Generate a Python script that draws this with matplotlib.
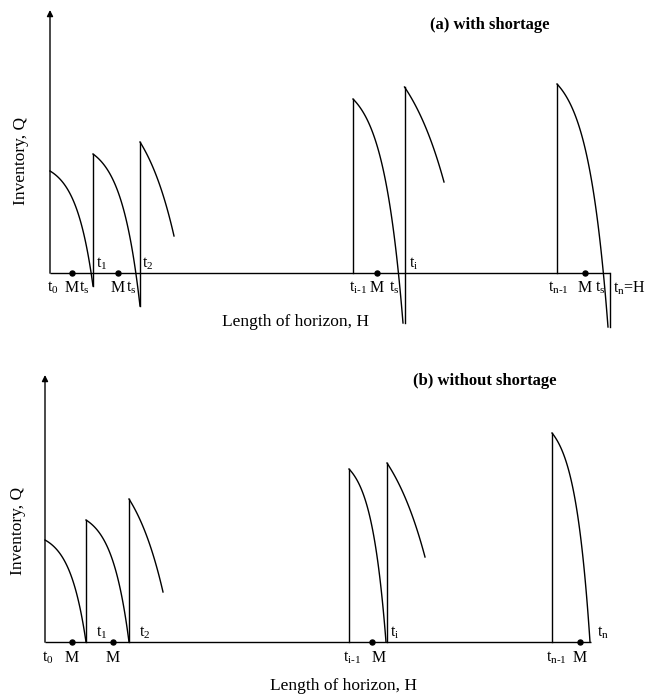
import numpy as np
import matplotlib
matplotlib.use("Agg")
import matplotlib.pyplot as plt

plt.rcParams['font.family'] = ['Liberation Serif', 'DejaVu Serif']
plt.rcParams['mathtext.fontset'] = 'custom'
plt.rcParams['mathtext.rm'] = 'Liberation Serif'
plt.rcParams['mathtext.it'] = 'Liberation Serif:italic'
plt.rcParams['mathtext.bf'] = 'Liberation Serif:bold'

# ---------------- (a) with shortage ----------------
a_start = [0.0, 4.3, 9.0, 30.3, 35.45, 50.7]        # replenishment instants
a_peak = [10.2, 11.9, 13.1, 17.4, 18.6, 18.9]       # stock right after ordering
a_end_t = [4.3, 9.0, 12.4, 35.3, 39.4, 55.8]        # where each drawn curve stops
a_end_q = [-1.3, -3.3, 3.7, -5.0, 9.1, -5.4]        # level where each curve stops
a_jump_low = [None, -1.3, -3.3, 0.0, -5.0, 0.0]     # bottom of each order jump
a_shape = [2.5, 2.5, 1.0, 2.5, 0.9, 2.5]
a_horizon = 56.0
a_final_drop = -5.4
a_axis_top = 26.3
a_m = [2.2, 6.8, 32.7, 53.5]
a_low_labels = ['t$_\\mathrm{0}$', 'M', 't$_\\mathrm{s}$', 'M', 't$_\\mathrm{s}$',
                't$_\\text{i-1}$', 'M', 't$_\\mathrm{s}$',
                't$_\\text{n-1}$', 'M', 't$_\\mathrm{s}$', 't$_\\mathrm{n}$=H']
a_low_x = [0.3, 2.2, 3.4, 6.8, 8.1, 30.8, 32.7, 34.4, 50.8, 53.5, 55.0, 57.9]
a_up_labels = ['t$_\\mathrm{1}$', 't$_\\mathrm{2}$', 't$_\\mathrm{i}$']
a_up_x = [5.2, 9.8, 36.4]

# ---------------- (b) without shortage ----------------
b_start = [0.0, 4.1, 8.4, 30.4, 34.2, 50.7]
b_peak = [10.2, 12.2, 14.3, 17.3, 17.9, 20.9]
b_end_t = [4.1, 8.4, 11.8, 34.1, 38.0, 54.5]
b_end_q = [0.0, 0.0, 5.0, 0.0, 8.5, 0.0]
b_jump_low = [None, 0.0, 0.0, 0.0, 0.0, 0.0]
b_shape = [2.5, 2.5, 1.0, 2.5, 0.9, 2.5]
b_horizon = 54.6
b_axis_top = 26.7
b_m = [2.7, 6.8, 32.7, 53.5]
b_low_labels = ['t$_\\mathrm{0}$', 'M', 'M', 't$_\\text{i-1}$', 'M', 't$_\\text{n-1}$', 'M']
b_low_x = [0.3, 2.7, 6.8, 30.7, 33.4, 51.1, 53.5]
b_up_labels = ['t$_\\mathrm{1}$', 't$_\\mathrm{2}$', 't$_\\mathrm{i}$', 't$_\\mathrm{n}$']
b_up_x = [5.7, 10.0, 35.0, 55.8]


def decay(t0, q0, t1, q1, k, n=120):
    s = np.linspace(0.0, 1.0, n)
    f = np.expm1(k * s) / np.expm1(k)
    return t0 + (t1 - t0) * s, q0 + (q1 - q0) * f


LW = 1.0
TICK_FS = 11.5
LAB_FS = 12.5
TITLE_FS = 12


def draw_panel(ax, starts, peaks, end_t, end_q, jump_low, shapes, horizon,
               axis_top, m_pos, low_labels, low_x, up_labels, up_x,
               title, title_xy, xlabel_xy, ylabel_xy, low_y, up_y,
               final_drop=None):
    ax.axis('off')
    # axes: horizon line and inventory axis with arrow
    ax.plot([0, horizon], [0, 0], color='black', lw=LW, solid_capstyle='butt')
    ax.annotate('', xy=(0, axis_top), xytext=(0, -0.02),
                arrowprops=dict(arrowstyle='-|>', lw=LW, color='black',
                                mutation_scale=9, shrinkA=0, shrinkB=0))
    for t0, q0, t1, q1, lo, k in zip(starts, peaks, end_t, end_q, jump_low, shapes):
        if lo is not None:
            ax.plot([t0, t0], [lo, q0], color='black', lw=LW)
        x, y = decay(t0, q0, t1, q1, k)
        ax.plot(x, y, color='black', lw=LW)
    if final_drop is not None:
        ax.plot([horizon, horizon], [0, final_drop], color='black', lw=LW)
    ax.plot(m_pos, [0] * len(m_pos), 'o', color='black', ms=3.6)
    for s, x in zip(low_labels, low_x):
        ax.text(x, low_y, s, ha='center', va='center', fontsize=TICK_FS)
    for s, x in zip(up_labels, up_x):
        ax.text(x, up_y, s, ha='center', va='center', fontsize=TICK_FS)
    ax.text(*title_xy, title, ha='center', va='center', fontsize=TITLE_FS,
            fontweight='bold')
    ax.text(*xlabel_xy, 'Length of horizon, H', ha='center', va='center',
            fontsize=LAB_FS)
    ax.text(*ylabel_xy, 'Inventory, Q', ha='center', va='center',
            fontsize=LAB_FS, rotation=90)


W, H = 646, 698
fig = plt.figure(figsize=(W / 100, H / 100), dpi=100)

ax_a = fig.add_axes([0, (H - 340) / H, 1, 340 / H])
ax_a.set_xlim(-5.0, 59.6)
ax_a.set_ylim(-6.7, 27.3)
draw_panel(ax_a, a_start, a_peak, a_end_t, a_end_q, a_jump_low, a_shape,
           a_horizon, a_axis_top, a_m, a_low_labels, a_low_x, a_up_labels,
           a_up_x, '(a) with shortage', (44.0, 24.8), (24.5, -4.9),
           (-2.9, 11.2), low_y=-1.5, up_y=0.9, final_drop=a_final_drop)

ax_b = fig.add_axes([0, 0, 1, 358 / H])
ax_b.set_xlim(-4.5, 60.1)
ax_b.set_ylim(-5.6, 30.2)
draw_panel(ax_b, b_start, b_peak, b_end_t, b_end_q, b_jump_low, b_shape,
           b_horizon, b_axis_top, b_m, b_low_labels, b_low_x, b_up_labels,
           b_up_x, '(b) without shortage', (44.0, 26.1), (29.8, -4.4),
           (-2.7, 11.1), low_y=-1.6, up_y=0.9)

fig.savefig('out.png', dpi=100)
